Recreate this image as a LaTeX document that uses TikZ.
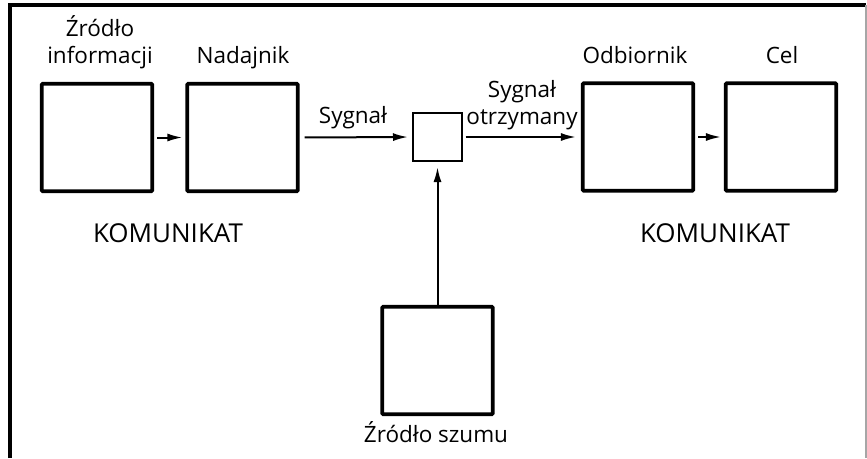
\documentclass[tikz,border=0pt]{standalone}
\usepackage{fontspec}
\setmainfont{Open Sans}
\usetikzlibrary{arrows.meta}
\begin{document}
\begin{tikzpicture}[x=1pt,y=-1pt,
  bigbox/.style={draw, line width=3.6pt, minimum width=110.5pt, minimum height=107.5pt, inner sep=0pt, rounded corners=1pt},
  smallbox/.style={draw, line width=2pt, minimum width=49pt, minimum height=48pt, inner sep=0pt},
  lbl/.style={font=\fontsize{22.5}{27}\selectfont, inner sep=0pt, anchor=base, align=center},
  big/.style={font=\fontsize{26}{30}\selectfont, inner sep=0pt, anchor=base},
  arr/.style={line width=2pt, -{Latex[length=15pt,width=8pt]}}]
\useasboundingbox (0,0) rectangle (867,458);
% frame
\draw[line width=3.2pt] (10,458) -- (10,5) -- (866,5);
\draw[line width=1.4pt, black!35] (866,5) -- (866,458);
% boxes
\node[bigbox] (src) at (97,137.5) {};
\node[bigbox] (tx) at (242.5,137.5) {};
\node[smallbox] (mix) at (437.5,137) {};
\node[bigbox] (rx) at (638,137) {};
\node[bigbox] (dst) at (781,137) {};
\node[bigbox] (noise) at (437.5,360.5) {};
% labels
\node[lbl] (lsrc) at (100,63) {Źródło\\informacji};
\node[lbl] (ltx) at (243,63) {Nadajnik};
\node[lbl] (lsig) at (353,123) {Sygnał};
\node[lbl] (lrec) at (522,124) {Sygnał\\otrzymany};
\node[lbl] (lrx) at (635,63) {Odbiornik};
\node[lbl] (ldst) at (782,63) {Cel};
\node[lbl] (lnoise) at (436,442) {Źródło szumu};
\node[big] (k1) at (168,242) {KOMUNIKAT};
\node[big] (k2) at (715,242) {KOMUNIKAT};
% connectors
\draw[arr, shorten <=3pt, shorten >=3pt] (src.east) -- (tx.west);
\draw[arr, shorten <=5pt, shorten >=4pt] (tx.east) -- (mix.west);
\draw[arr, shorten <=2.5pt, shorten >=5pt] (mix.east) -- (rx.west);
\draw[arr, shorten <=3pt, shorten >=3pt] (rx.east) -- (dst.west);
\draw[arr, shorten >=5pt] (noise.north) -- (mix.south);
\end{tikzpicture}
\end{document}
